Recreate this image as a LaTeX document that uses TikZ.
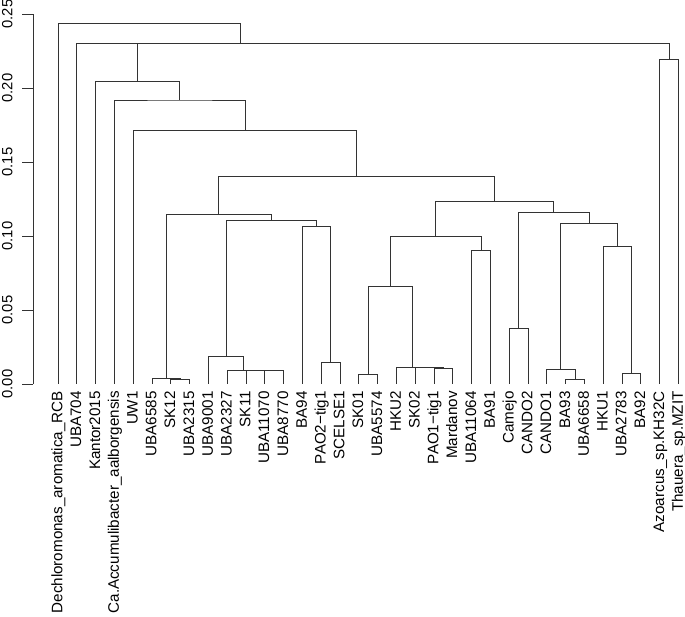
\documentclass[tikz,border=0pt]{standalone}
\usepackage{fontspec}
\setmainfont{Liberation Sans}
\begin{document}
\begin{tikzpicture}[x=1pt,y=1pt,
  br/.style={draw=black!80, line width=0.85pt},
  lab/.style={rotate=90, anchor=base east, inner sep=0pt, font=\fontsize{15.2}{16}\selectfont},
  ticklab/.style={rotate=90, anchor=base, inner sep=0pt, font=\fontsize{14.8}{16}\selectfont}]
\useasboundingbox (0,0) rectangle (685,616);
% leaves
\foreach [count=\i] \t in {Dechloromonas\_aromatica\_RCB, UBA704, Kantor2015, Ca.Accumulibacter\_aalborgensis, UW1, UBA6585, SK12, UBA2315, UBA9001, UBA2327, SK11, UBA11070, UBA8770, BA94, PAO2−tig1, SCELSE1, SK01, UBA5574, HKU2, SK02, PAO1−tig1, Mardanov, UBA11064, BA91, Camejo, CANDO2, CANDO1, BA93, UBA6658, HKU1, UBA2783, BA92, Azoarcus\_sp.KH32C, Thauera\_sp.MZIT}{
  \coordinate (l\i) at ({58+(\i-1)*18.8},232);
  \node[lab] (t\i) at ({58+(\i-1)*18.8+4.4},225) {\t};
}
% internal nodes
\coordinate (g1a)  at (180.2,{232+1480*0.0034});
\coordinate (g1)   at (166.1,{232+1480*0.0039});
\coordinate (g2a3) at (274.2,{232+1480*0.0089});
\coordinate (g2a2) at (260.1,{232+1480*0.0092});
\coordinate (g2a1) at (243.65,{232+1480*0.0095});
\coordinate (g2a)  at (226.03,{232+1480*0.0185});
\coordinate (g2b1) at (330.6,{232+1480*0.0146});
\coordinate (g2b)  at (316.5,{232+1480*0.1063});
\coordinate (g2)   at (271.26,{232+1480*0.1103});
\coordinate (g)    at (218.68,{232+1480*0.1149});
\coordinate (h1a1) at (368.2,{232+1480*0.0065});
\coordinate (pm)   at (443.4,{232+1480*0.0106});
\coordinate (s2)   at (429.3,{232+1480*0.0110});
\coordinate (hk)   at (412.85,{232+1480*0.0112});
\coordinate (h1a)  at (390.5,{232+1480*0.0657});
\coordinate (h1b)  at (481.0,{232+1480*0.0905});
\coordinate (h1)   at (435.76,{232+1480*0.0995});
\coordinate (h2a)  at (518.6,{232+1480*0.0378});
\coordinate (bu)   at (575.0,{232+1480*0.0029});
\coordinate (h2b1) at (560.9,{232+1480*0.0097});
\coordinate (ub)   at (631.4,{232+1480*0.0074});
\coordinate (h2b2) at (617.3,{232+1480*0.0928});
\coordinate (h2b)  at (589.1,{232+1480*0.1086});
\coordinate (h2)   at (553.85,{232+1480*0.1160});
\coordinate (hh)   at (494.8,{232+1480*0.1234});
\coordinate (f)    at (356.74,{232+1480*0.1405});
\coordinate (e)    at (244.97,{232+1480*0.1712});
\coordinate (d)    at (179.69,{232+1480*0.1919});
\coordinate (c)    at (137.64,{232+1480*0.2041});
\coordinate (at)   at (669.0,{232+1480*0.2194});
\coordinate (nz)   at (403.3,{232+1480*0.2302});
\coordinate (nx)   at (240.06,{232+1480*0.2302});
\coordinate (root) at (149.03,{232+1480*0.2437});
% connectors
\draw[br] (l7) |- (g1a) -| (l8);
\draw[br] (l6) |- (g1) -| (g1a);
\draw[br] (l12) |- (g2a3) -| (l13);
\draw[br] (l11) |- (g2a2) -| (g2a3);
\draw[br] (l10) |- (g2a1) -| (g2a2);
\draw[br] (l9) |- (g2a) -| (g2a1);
\draw[br] (l15) |- (g2b1) -| (l16);
\draw[br] (l14) |- (g2b) -| (g2b1);
\draw[br] (g2a) |- (g2) -| (g2b);
\draw[br] (g1) |- (g) -| (g2);
\draw[br] (l17) |- (h1a1) -| (l18);
\draw[br] (l21) |- (pm) -| (l22);
\draw[br] (l20) |- (s2) -| (pm);
\draw[br] (l19) |- (hk) -| (s2);
\draw[br] (h1a1) |- (h1a) -| (hk);
\draw[br] (l23) |- (h1b) -| (l24);
\draw[br] (h1a) |- (h1) -| (h1b);
\draw[br] (l25) |- (h2a) -| (l26);
\draw[br] (l28) |- (bu) -| (l29);
\draw[br] (l27) |- (h2b1) -| (bu);
\draw[br] (l31) |- (ub) -| (l32);
\draw[br] (l30) |- (h2b2) -| (ub);
\draw[br] (h2b1) |- (h2b) -| (h2b2);
\draw[br] (h2a) |- (h2) -| (h2b);
\draw[br] (h1) |- (hh) -| (h2);
\draw[br] (g) |- (f) -| (hh);
\draw[br] (l5) |- (e) -| (f);
\draw[br] (l4) |- (d) -| (e);
\draw[br] (l3) |- (c) -| (d);
\draw[br] (l33) |- (at) -| (l34);
\draw[br] (c) |- (nz) -| (at);
\draw[br] (l2) |- (nx) -| (nz);
\draw[br] (l1) |- (root) -| (nx);
% axis
\coordinate (a0) at (33,232);
\coordinate (a25) at (33,602);
\draw[br] (a0) -- (a25);
\foreach \v/\s in {0/0.00,1/0.05,2/0.10,3/0.15,4/0.20,5/0.25}{
  \draw[br] (33,{232+74*\v}) -- ++(-11.5,0);
  \node[ticklab] at (12.3,{232+74*\v}) {\s};
}
\end{tikzpicture}
\end{document}
